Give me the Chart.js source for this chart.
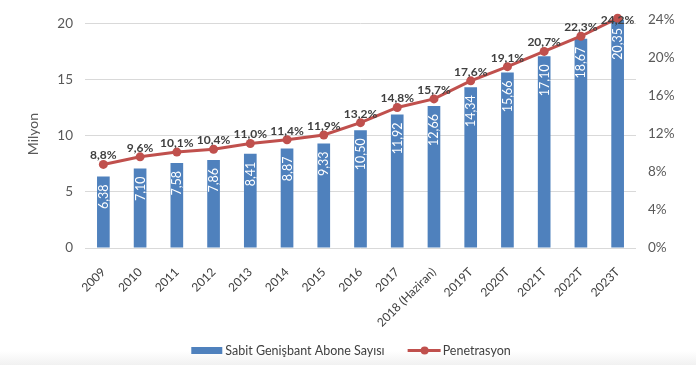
<!DOCTYPE html>
<html>
<head>
<meta charset="utf-8">
<script src="https://cdn.jsdelivr.net/npm/chart.js@4"></script>
<style>
  html, body { margin: 0; padding: 0; }
  body { width: 696px; height: 365px; overflow: hidden;
         background: linear-gradient(#fff 0, #fff 351px, #f1f1f1 365px); }
</style>
</head>
<body>
<canvas id="chart" width="696" height="365"></canvas>
<script>
/* Sabit genişbant abone sayısı (milyon) ve penetrasyon oranı */

const YEARS = ["2009", "2010", "2011", "2012", "2013", "2014", "2015", "2016", "2017",
               "2018 (Haziran)", "2019T", "2020T", "2021T", "2022T", "2023T"];
const SUBSCRIBERS = [6.38, 7.10, 7.58, 7.86, 8.41, 8.87, 9.33, 10.50, 11.92, 12.66,
                     14.34, 15.66, 17.10, 18.67, 20.35];
const PENETRATION = [8.8, 9.6, 10.1, 10.4, 11.0, 11.4, 11.9, 13.2, 14.8, 15.7,
                     17.6, 19.1, 20.7, 22.3, 24.2];
const LEFT_TICKS = [0, 5, 10, 15, 20];
const BAR_NAME = "Sabit Genişbant Abone Sayısı";
const LINE_NAME = "Penetrasyon";

const BLUE = "#4f81bd";
const RED = "#c0504d";
const TEXT = "#404040";
const MUTED = "#595959";
const FONT = "Lato, 'Open Sans', sans-serif";

const comma = (v, d) => v.toFixed(d).replace(".", ",");

Chart.defaults.font.family = FONT;

const valueLabels = {
  id: "valueLabels",
  afterDatasetsDraw(chart) {
    const ctx = chart.ctx;
    const top = chart.chartArea.top;
    ctx.save();
    ctx.fillStyle = "#fff";
    ctx.font = `12.5px ${FONT}`;
    ctx.textAlign = "right";
    ctx.textBaseline = "middle";
    chart.getDatasetMeta(0).data.forEach((bar, i) => {
      ctx.save();
      ctx.translate(bar.x + 0.5, bar.y + 8);
      ctx.rotate(-Math.PI / 2);
      ctx.fillText(comma(SUBSCRIBERS[i], 2), 0, 0);
      ctx.restore();
    });
    ctx.fillStyle = TEXT;
    ctx.font = `bold 12px ${FONT}`;
    ctx.textAlign = "center";
    ctx.textBaseline = "middle";
    chart.getDatasetMeta(1).data.forEach((pt, i) => {
      ctx.fillText(comma(PENETRATION[i], 1) + "%", pt.x, Math.max(pt.y - 9, top));
    });
    ctx.restore();
  },
};

const bottomLegend = {
  id: "bottomLegend",
  afterDraw(chart) {
    const ctx = chart.ctx;
    const y = 350.5;
    ctx.save();
    ctx.font = `12.5px ${FONT}`;
    ctx.textBaseline = "middle";
    const w1 = ctx.measureText(BAR_NAME).width;
    const w2 = ctx.measureText(LINE_NAME).width;
    const total = 31 + 3 + w1 + 23 + 33 + 2 + w2;
    let x = 351 - total / 2;
    ctx.fillStyle = BLUE;
    ctx.fillRect(x, y - 3.5, 31, 7);
    x += 34;
    ctx.fillStyle = TEXT;
    ctx.fillText(BAR_NAME, x, y);
    x += w1 + 23;
    ctx.strokeStyle = RED;
    ctx.lineWidth = 3;
    ctx.beginPath(); ctx.moveTo(x, y); ctx.lineTo(x + 33, y); ctx.stroke();
    ctx.fillStyle = RED;
    ctx.beginPath(); ctx.arc(x + 17, y, 4, 0, Math.PI * 2); ctx.fill();
    x += 35;
    ctx.fillStyle = TEXT;
    ctx.fillText(LINE_NAME, x, y);
    ctx.restore();
  },
};

new Chart(document.getElementById("chart"), {
  type: "bar",
  data: {
    labels: YEARS,
    datasets: [
      {
        type: "bar", label: BAR_NAME, data: SUBSCRIBERS, yAxisID: "y", order: 2,
        backgroundColor: BLUE, categoryPercentage: 0.5, barPercentage: 0.69,
      },
      {
        type: "line", label: LINE_NAME, data: PENETRATION, yAxisID: "y1", order: 1,
        borderColor: RED, backgroundColor: RED, borderWidth: 3, tension: 0,
        pointRadius: 4.5, pointHoverRadius: 4.5, pointBorderWidth: 0, clip: false,
      },
    ],
  },
  options: {
    responsive: false,
    animation: false,
    layout: { padding: { left: 25, right: 0, top: 17, bottom: 37 } },
    plugins: { legend: { display: false }, tooltip: { enabled: false } },
    scales: {
      x: {
        grid: { display: false },
        border: { display: false },
        ticks: { color: TEXT, font: { size: 12 }, minRotation: 45, maxRotation: 45, padding: 9 },
        afterFit(s) { s.height = 80; },
      },
      y: {
        position: "left", min: 0, max: 20.33,
        afterBuildTicks(s) { s.ticks = LEFT_TICKS.map((v) => ({ value: v })); },
        grid: { color: "#d9d9d9", drawTicks: false },
        border: { display: false },
        ticks: { color: MUTED, font: { size: 13.5 }, padding: 12 },
        title: { display: true, text: "Milyon", color: MUTED, font: { size: 14 }, padding: 0 },
        afterFit(s) { s.width = 60; },
      },
      y1: {
        position: "right", min: 0, max: 24,
        grid: { display: false, drawTicks: false },
        border: { display: false },
        ticks: { stepSize: 4, color: MUTED, font: { size: 13.5 }, padding: 12, callback: (v) => v + "%" },
        afterFit(s) { s.width = 60; },
      },
    },
  },
  plugins: [valueLabels, bottomLegend],
});
</script>
</body>
</html>
